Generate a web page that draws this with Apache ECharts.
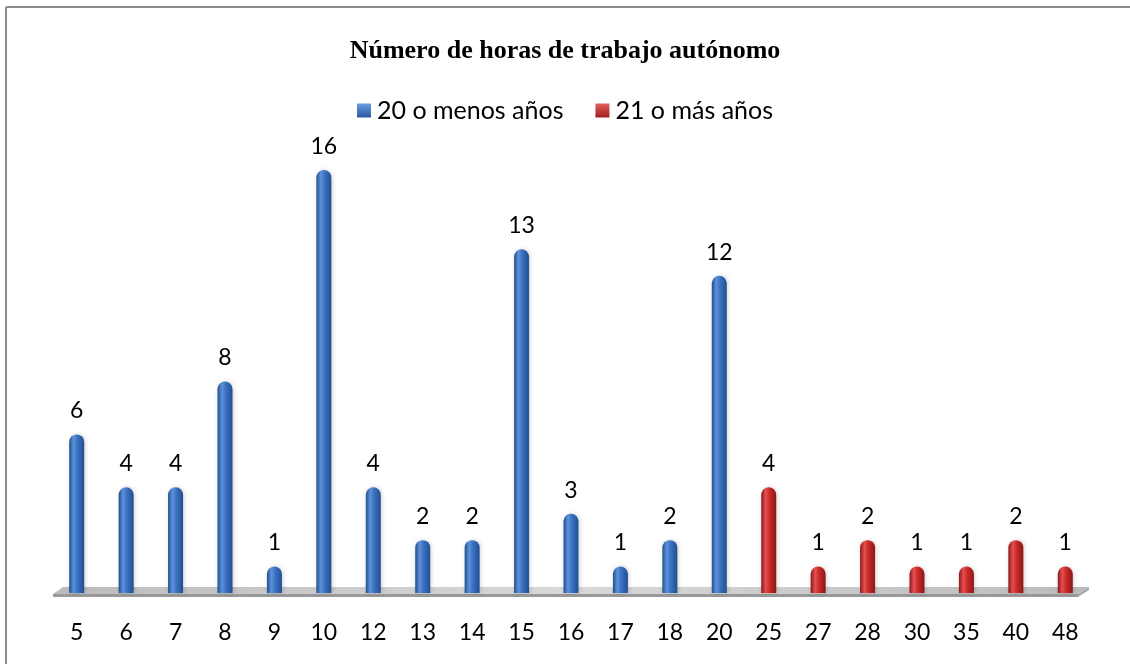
<!DOCTYPE html>
<html>
<head>
<meta charset="utf-8">
<script src="https://cdn.jsdelivr.net/npm/echarts@6/dist/echarts.min.js"></script>
<style>
  html, body { margin: 0; padding: 0; background: #fff; }
  #chart { width: 1130px; height: 664px; }
</style>
</head>
<body>
<div id="chart"></div>
<script>
// Hours of independent work, by age group
const categories = ['5','6','7','8','9','10','12','13','14','15','16','17','18','20','25','27','28','30','35','40','48'];
const youngerValues = [6,4,4,8,1,16,4,2,2,13,3,1,2,12,'-','-','-','-','-','-','-'];
const olderValues   = ['-','-','-','-','-','-','-','-','-','-','-','-','-','-',4,1,2,1,1,2,1];
const seriesNames = ['20 o menos años', '21 o más años'];
const titleText = 'Número de horas de trabajo autónomo';

const labelFont = 'Lato, "Open Sans", sans-serif';

function cylinder(dark, mid, light) {
  return new echarts.graphic.LinearGradient(0, 0, 1, 0, [
    { offset: 0, color: dark },
    { offset: 0.3, color: light },
    { offset: 0.55, color: mid },
    { offset: 1, color: dark }
  ]);
}
function keySwatch(light, dark) {
  return new echarts.graphic.LinearGradient(0, 0, 0, 1, [
    { offset: 0, color: light },
    { offset: 1, color: dark }
  ]);
}
const blueFill = cylinder('#224f8e', '#3a72c2', '#5d92da');
const redFill = cylinder('#8e1616', '#c92a2a', '#e55050');

const chart = echarts.init(document.getElementById('chart'));

const barLabel = {
  show: true,
  position: 'top',
  distance: 12,
  color: '#000',
  fontFamily: labelFont,
  fontSize: 23
};

chart.setOption({
  animation: false,
  backgroundColor: '#fff',
  title: {
    text: titleText,
    left: 'center',
    top: 33,
    textStyle: {
      fontFamily: '"Liberation Serif", "Times New Roman", serif',
      fontWeight: 'bold',
      fontSize: 26,
      color: '#000'
    }
  },
  legend: {
    top: 93,
    left: 'center',
    itemWidth: 14,
    itemHeight: 14,
    itemGap: 32,
    icon: 'rect',
    data: [
      { name: seriesNames[0], itemStyle: { color: keySwatch('#6b9be0', '#2a5a9e') } },
      { name: seriesNames[1], itemStyle: { color: keySwatch('#e46060', '#a31e1e') } }
    ],
    textStyle: { fontFamily: labelFont, fontSize: 25, color: '#000', padding: [0, 0, 0, 1] }
  },
  grid: { left: 52, right: 40, top: 170, bottom: 71 },
  xAxis: {
    type: 'category',
    data: categories,
    axisLine: { show: false },
    axisTick: { show: false },
    axisLabel: { margin: 28, color: '#000', fontFamily: labelFont, fontSize: 23 }
  },
  yAxis: {
    type: 'value',
    min: 0,
    max: 16,
    show: false,
    splitLine: { show: false }
  },
  graphic: [
    { type: 'line', shape: { x1: 6, y1: 7, x2: 1130, y2: 7 }, style: { stroke: '#8c8c8c', lineWidth: 2 } },
    { type: 'line', shape: { x1: 6, y1: 7, x2: 6, y2: 664 }, style: { stroke: '#8c8c8c', lineWidth: 2 } }
  ],
  series: [
    {
      // gray floor under the bars, spanning all categories
      type: 'custom',
      silent: true,
      z: 1,
      data: [[0, 0]],
      renderItem: function (params, api) {
        const n = categories.length;
        const band = api.size([1, 0])[0];
        const first = api.coord([0, 0]);
        const last = api.coord([n - 1, 0]);
        const x0 = first[0] - band / 2;
        const x1 = last[0] + band / 2;
        const y = first[1];
        return {
          type: 'group',
          children: [
            {
              type: 'polygon',
              shape: { points: [[x0 + 11, y - 6], [x1 - 1, y - 6], [x1 - 12, y + 1], [x0 + 1, y + 1]] },
              style: {
                fill: new echarts.graphic.LinearGradient(0, 0, 1, 0, [
                  { offset: 0, color: '#bcbcbc' },
                  { offset: 0.5, color: '#d8d8d8' },
                  { offset: 1, color: '#bcbcbc' }
                ])
              }
            },
            {
              type: 'polygon',
              shape: { points: [[x0 + 1, y + 1], [x1 - 12, y + 1], [x1 - 12, y + 4], [x0 + 1, y + 4]] },
              style: { fill: '#999999' }
            },
            {
              type: 'polygon',
              shape: { points: [[x1 - 1, y - 6], [x1 - 1, y - 3], [x1 - 12, y + 4], [x1 - 12, y + 1]] },
              style: { fill: '#a8a8a8' }
            }
          ]
        };
      }
    },
    {
      name: seriesNames[0],
      type: 'bar',
      z: 3,
      data: youngerValues,
      barWidth: 15,
      barGap: '-100%',
      itemStyle: {
        color: blueFill,
        borderRadius: [7.5, 7.5, 0, 0],
        shadowColor: 'rgba(0,0,0,0.18)',
        shadowBlur: 4,
        shadowOffsetX: 1
      },
      label: barLabel
    },
    {
      name: seriesNames[1],
      type: 'bar',
      z: 3,
      data: olderValues,
      barWidth: 15,
      barGap: '-100%',
      itemStyle: {
        color: redFill,
        borderRadius: [7.5, 7.5, 0, 0],
        shadowColor: 'rgba(0,0,0,0.18)',
        shadowBlur: 4,
        shadowOffsetX: 1
      },
      label: barLabel
    }
  ]
});
</script>
</body>
</html>
